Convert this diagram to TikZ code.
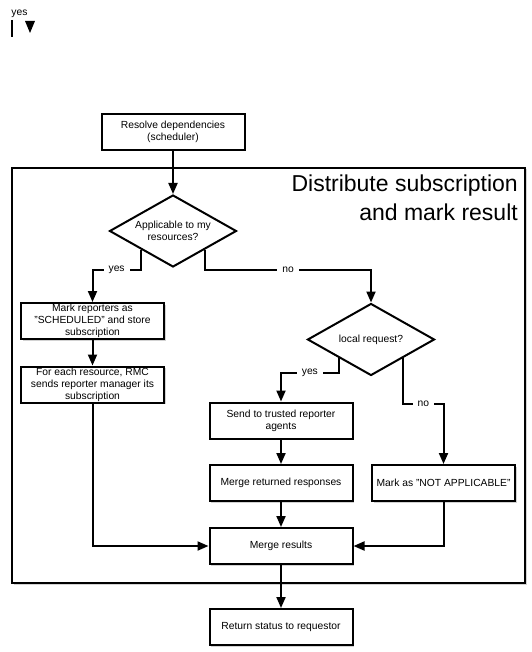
\documentclass[tikz,border=0pt]{standalone}
\usepackage{fontspec}
\setmainfont{Liberation Sans}
\usetikzlibrary{shapes.geometric,arrows.meta,shadows}
\newcommand{\boxfont}{\fontsize{10.3}{12}\selectfont}
\tikzset{
         box/.style=
          {
           draw,line width=2pt,fill=white,
           minimum width=143pt,minimum height=36pt,inner sep=0pt,
           align=center,font=\boxfont,
           drop shadow={shadow xshift=1.5pt,shadow yshift=-1.5pt,opacity=.35}
          },
         choice/.style=
          {
           draw,diamond,line width=2pt,fill=white,shape aspect=1.76,
           minimum width=127pt,minimum height=72pt,inner sep=0pt,
           align=center,font=\boxfont
          },
         flow/.style={line width=2pt,-{Triangle[length=11pt,width=9pt]}},
         lbl/.style={fill=white,inner xsep=5pt,inner ysep=2pt,font=\boxfont},
         frame/.style={line width=1.3pt,fill=white,
           drop shadow={shadow xshift=1.5pt,shadow yshift=-1.5pt,opacity=.35}}
        }

\begin{document}
\begin{tikzpicture}[x=1pt,y=-1pt]
\useasboundingbox(0,0)rectangle(531,652);
%stray edge at the top
\node[font=\boxfont,anchor=base,inner sep=0pt](stray)at(19.5,16){yes};
\draw[line width=2pt](12,20)--(12,37);
\fill(25,21)--(35,21)--(30,33)--cycle;
%the frame
\draw[frame](12,168)rectangle(525,583);
\node[anchor=north east,align=right,inner sep=0pt,font=\fontsize{23}{29}\selectfont](title)at(518,175){Distribute subscription\\and mark result};
%steps
\node[box](resolve)at(173,132){Resolve dependencies\\(scheduler)};
\node[choice](applic)at(173,231){Applicable to my\\resources?};
\node[box](markrep)at(92.5,321){Mark reporters as\\"SCHEDULED" and store\\subscription};
\node[box](foreach)at(92.5,384.5){For each resource, RMC\\sends reporter manager its\\subscription};
\node[choice](localreq)at(371,339.5){local request?};
\node[box](trusted)at(281,420.5){Send to trusted reporter\\agents};
\node[box](mergeret)at(281,483){Merge returned responses};
\node[box](notapp)at(443.5,483){Mark as "NOT APPLICABLE"};
\node[box](merge)at(281,546){Merge results};
\node[box](status)at(281,627){Return status to requestor};
%connectors
\draw[flow](resolve)--(applic);
\draw[flow](applic.south west)--++(0,20)-|node[pos=.25,lbl]{yes}(markrep.north);
\draw[flow](applic.south east)--++(0,20)-|node[pos=.25,lbl]{no}(localreq.north);
\draw[flow](markrep)--(foreach);
\draw[flow](foreach.south)|-(merge.west);
\draw[flow](localreq.south west)--++(0,15)-|node[pos=.25,lbl]{yes}(trusted.north);
\draw[flow](localreq.south east)--++(0,46)-|node[pos=.25,lbl]{no}(notapp.north);
\draw[flow](trusted)--(mergeret);
\draw[flow](mergeret)--(merge);
\draw[flow](notapp.south)|-(merge.east);
\draw[flow](merge)--(status);
\end{tikzpicture}
\end{document}
